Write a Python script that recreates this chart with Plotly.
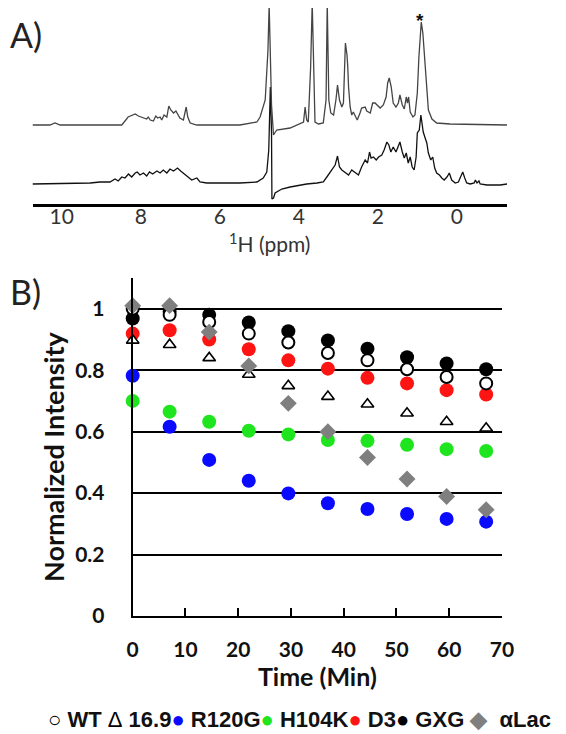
import plotly.graph_objects as go

# ---------------- Panel A : 1H NMR spectra ----------------
TOP_PPM = [10.74, 10.30, 10.17, 10.04, 8.78, 8.48, 8.32, 8.14, 8.06, 7.93,
           7.85, 7.81, 7.76, 7.68, 7.62, 7.57, 7.51, 7.47, 7.41, 7.34,
           7.29, 7.24, 7.17, 7.11, 7.06, 7.01, 6.92, 6.85, 6.81, 6.75,
           6.58, 5.49, 5.06, 4.98, 4.85, 4.78, 4.75, 4.72, 4.69, 4.64,
           4.56, 4.22, 3.97, 3.88, 3.84, 3.80, 3.76, 3.70, 3.66, 3.63,
           3.59, 3.50, 3.38, 3.31, 3.28, 3.24, 3.19, 3.12, 3.06, 3.02,
           2.97, 2.91, 2.87, 2.82, 2.78, 2.76, 2.74, 2.70, 2.66, 2.62,
           2.55, 2.52, 2.45, 2.41, 2.32, 2.28, 2.19, 2.13, 2.07, 2.01,
           1.94, 1.86, 1.79, 1.75, 1.71, 1.66, 1.61, 1.54, 1.48, 1.44,
           1.38, 1.33, 1.28, 1.25, 1.22, 1.18, 1.11, 1.06, 1.00, 0.96,
           0.93, 0.90, 0.86, 0.83, 0.78, 0.72, 0.63, 0.51, 0.17, -1.27]
TOP_INT = [0, 0, 2, 0, 0, 0, 8, 11, 9, 7,
           6, 8, 5, 4, 9, 7, 8, 5, 10, 8,
           19, 15, 12, 14, 10, 7, 5, 18, 8, 2,
           0, 0, 3, 8, 25, 75, 120, 75, 20, -10,
           -5, -3, 2, 3, 18, 5, 3, 58, 122, 58,
           3, 1, 2, 25, 122, 25, 12, 10, 25, 40,
           25, 18, 22, 82, 70, 58, 38, 18, 10, 13,
           8, 5, 12, 17, 18, 14, 12, 22, 22, 20,
           17, 20, 28, 42, 47, 38, 22, 18, 22, 30,
           20, 16, 28, 22, 28, 13, 8, 10, 32, 68,
           92, 103, 92, 75, 42, 15, 6, 2, 1, 0]

BOT_PPM = [10.74, 9.28, 9.03, 8.78, 8.65, 8.57, 8.48, 8.40, 8.31, 8.23,
           8.14, 8.09, 8.02, 7.93, 7.85, 7.78, 7.70, 7.59, 7.51, 7.43,
           7.34, 7.26, 7.17, 7.07, 6.99, 6.90, 6.82, 6.71, 6.58, 6.50,
           6.33, 5.91, 5.49, 5.06, 4.90, 4.81, 4.76, 4.72, 4.69, 4.68,
           4.64, 4.60, 4.43, 4.22, 3.80, 3.54, 3.38, 3.29, 3.16, 3.08,
           3.02, 2.97, 2.91, 2.83, 2.74, 2.66, 2.57, 2.49, 2.41, 2.32,
           2.26, 2.21, 2.17, 2.11, 2.04, 1.98, 1.90, 1.84, 1.77, 1.72,
           1.67, 1.61, 1.54, 1.48, 1.44, 1.38, 1.33, 1.28, 1.23, 1.18,
           1.13, 1.08, 1.03, 1.00, 0.95, 0.91, 0.88, 0.85, 0.81, 0.76,
           0.72, 0.66, 0.61, 0.56, 0.51, 0.44, 0.38, 0.32, 0.25, 0.19,
           0.13, 0.04, -0.04, -0.10, -0.15, -0.20, -0.25, -0.34, -0.44, -0.47,
           -0.51, -0.56, -0.59, -0.76, -1.10, -1.27]
BOT_INT = [0, 1, 2, 2, 5, 3, 7, 6, 10, 7,
           11, 12, 9, 11, 8, 12, 10, 13, 11, 14,
           11, 15, 13, 16, 13, 10, 7, 4, 6, 2,
           1, 1, 1, 2, 6, 12, 34, 97, 51, -15,
           -14, -9, -5, -3, 0, 1, 2, 7, 14, 19,
           28, 17, 14, 12, 9, 14, 11, 9, 17, 24,
           21, 32, 26, 27, 24, 27, 29, 34, 42, 39,
           32, 37, 32, 37, 42, 32, 26, 31, 21, 27,
           17, 14, 27, 51, 54, 69, 61, 52, 47, 41,
           31, 24, 27, 16, 11, 9, 6, 4, 7, 11,
           4, 1, 2, 7, 12, 6, 1, 0, 1, 4,
           1, 3, 0, -1, -1, 0]

PPM_TICKS = [10, 8, 6, 4, 2, 0]
STAR_PPM = 0.93

# ---------------- Panel B : intensity decay ----------------
TIME = [0.0, 7.0, 14.5, 22.0, 29.5, 37.0, 44.5, 52.0, 59.5, 67.0]
WT = [1.00, 0.98, 0.957, 0.919, 0.89, 0.856, 0.832, 0.803, 0.778, 0.757]
HSP169 = [0.897, 0.883, 0.84, 0.786, 0.749, 0.714, 0.689, 0.66, 0.632, 0.611]
R120G = [0.782, 0.616, 0.508, 0.44, 0.399, 0.367, 0.348, 0.332, 0.316, 0.307]
H104K = [0.70, 0.665, 0.632, 0.603, 0.591, 0.573, 0.57, 0.557, 0.543, 0.537]
D3 = [0.919, 0.93, 0.90, 0.868, 0.832, 0.805, 0.775, 0.757, 0.735, 0.721]
GXG = [0.968, 0.99, 0.98, 0.955, 0.927, 0.897, 0.870, 0.842, 0.822, 0.803]
ALAC = [1.01, 1.01, 0.924, 0.814, 0.692, 0.60, 0.516, 0.446, 0.389, 0.346]

Y_TICKS = [0, 0.2, 0.4, 0.6, 0.8, 1.0]
Y_TICKTEXT = ["0", "0.2", "0.4", "0.6", "0.8", "1"]

# page is 566x734; the html body keeps its default 8px margin
PAGE_MARGIN = 8
W, H = 566 - PAGE_MARGIN, 734 - PAGE_MARGIN


def fx(px):
    return (px - PAGE_MARGIN) / W


def fy(py):
    return 1 - (py - PAGE_MARGIN) / H


TOP_OFFSET = 79
BOT_OFFSET = 20

fig = go.Figure()

# spectra
fig.add_trace(go.Scatter(x=BOT_PPM, y=[v + BOT_OFFSET for v in BOT_INT],
                         mode="lines", line=dict(color="#111111", width=1.3),
                         xaxis="x2", yaxis="y2", showlegend=False, hoverinfo="skip"))
fig.add_trace(go.Scatter(x=TOP_PPM, y=[v + TOP_OFFSET for v in TOP_INT],
                         mode="lines", line=dict(color="#444444", width=1.3),
                         xaxis="x2", yaxis="y2", showlegend=False, hoverinfo="skip"))

# decay series (drawing order: later on top)
series = [
    ("R120G", R120G, dict(symbol="circle", size=14, color="#0a0aff")),
    ("H104K", H104K, dict(symbol="circle", size=14, color="#1fe51f")),
    ("D3", D3, dict(symbol="circle", size=14, color="#ff1414")),
    ("GXG", GXG, dict(symbol="circle", size=14, color="#000000")),
    ("WT", WT, dict(symbol="circle", size=12, color="white", line=dict(color="black", width=2))),
    ("16.9", HSP169, dict(symbol="triangle-up", size=11, color="white", line=dict(color="black", width=1.6))),
    ("αLac", ALAC, dict(symbol="diamond", size=13, color="#7f7f7f")),
]
for name, vals, mk in series:
    fig.add_trace(go.Scatter(x=TIME, y=vals, mode="markers", name=name, marker=mk,
                             cliponaxis=False, showlegend=False))

BOLD = "Lato, 'Liberation Sans', sans-serif"

legend_text = (
    '<span style="color:#000000;font-weight:normal">○</span> WT '
    '<span style="color:#000000;font-weight:normal">Δ</span> 16.9'
    '<span style="color:#0a0aff">●</span> R120G'
    '<span style="color:#1fe51f">●</span> H104K'
    '<span style="color:#ff1414">●</span> D3'
    '<span style="color:#000000">●</span> GXG '
    '<span style="color:#7f7f7f">◆</span>  αLac'
)

fig.update_layout(
    width=W, height=H, autosize=False,
    margin=dict(l=0, r=0, t=0, b=0),
    paper_bgcolor="white", plot_bgcolor="white",
    showlegend=False,
    xaxis=dict(domain=[fx(132.7), fx(502)], range=[0, 70], anchor="y",
               showline=True, linecolor="black", linewidth=2,
               ticks="inside", ticklen=8, tickwidth=1.5, tickcolor="black",
               tick0=0, dtick=10, showgrid=False, zeroline=False,
               tickfont=dict(family=BOLD, size=21, color="#111111", weight="bold"),
               ticklabelstandoff=14, automargin=False,
               title=dict(text="Time (Min)", standoff=4,
                          font=dict(family=BOLD, size=25, color="#111111", weight="bold"))),
    yaxis=dict(domain=[fy(616), fy(278)], range=[0, 1.1], anchor="x",
               showline=True, linecolor="black", linewidth=2,
               ticks="", tickvals=Y_TICKS, ticktext=Y_TICKTEXT,
               showgrid=True, gridcolor="black", gridwidth=1.5, zeroline=False,
               tickfont=dict(family=BOLD, size=21, color="#111111", weight="bold"),
               ticklabelstandoff=22, automargin=False),
    xaxis2=dict(domain=[fx(32.5), fx(507)], range=[10.74, -1.27], anchor="y2",
                showline=True, linecolor="black", linewidth=3,
                ticks="", tickvals=PPM_TICKS, showgrid=False, zeroline=False,
                tickfont=dict(family="Lato, sans-serif", size=21, color="#333333"),
                ticklabelstandoff=-8, automargin=False,
                title=dict(text="<sup>1</sup>H (ppm)", standoff=11,
                           font=dict(family="Lato, sans-serif", size=21, color="#333333"))),
    yaxis2=dict(domain=[fy(204), 1], range=[0, 204 - PAGE_MARGIN], anchor="x2", visible=False,
                showgrid=False, zeroline=False),
    annotations=[
        dict(text="A)", xref="paper", yref="paper", x=0, y=fy(34),
             xanchor="left", yanchor="middle", showarrow=False,
             font=dict(family="Lato, sans-serif", size=34, color="#222222")),
        dict(text="B)", xref="paper", yref="paper", x=0, y=fy(291),
             xanchor="left", yanchor="middle", showarrow=False,
             font=dict(family="Lato, sans-serif", size=34, color="#222222")),
        dict(text="Normalized Intensity", xref="paper", yref="paper", x=fx(53), y=fy(457),
             xanchor="center", yanchor="middle", textangle=-90, showarrow=False,
             font=dict(family=BOLD, size=27, color="#111111", weight="bold")),
        dict(text="*", xref="x2", yref="paper", x=STAR_PPM, y=1,
             xanchor="center", yanchor="top", showarrow=False,
             font=dict(family="Liberation Sans, sans-serif", size=19, color="#111111", weight="bold")),
        dict(text=legend_text, xref="paper", yref="paper", x=fx(299), y=0,
             xanchor="center", yanchor="bottom", showarrow=False,
             font=dict(family="'Liberation Sans', Arial, sans-serif", size=22,
                       color="#111111", weight="bold")),
    ],
)

fig.write_html("out.html")
